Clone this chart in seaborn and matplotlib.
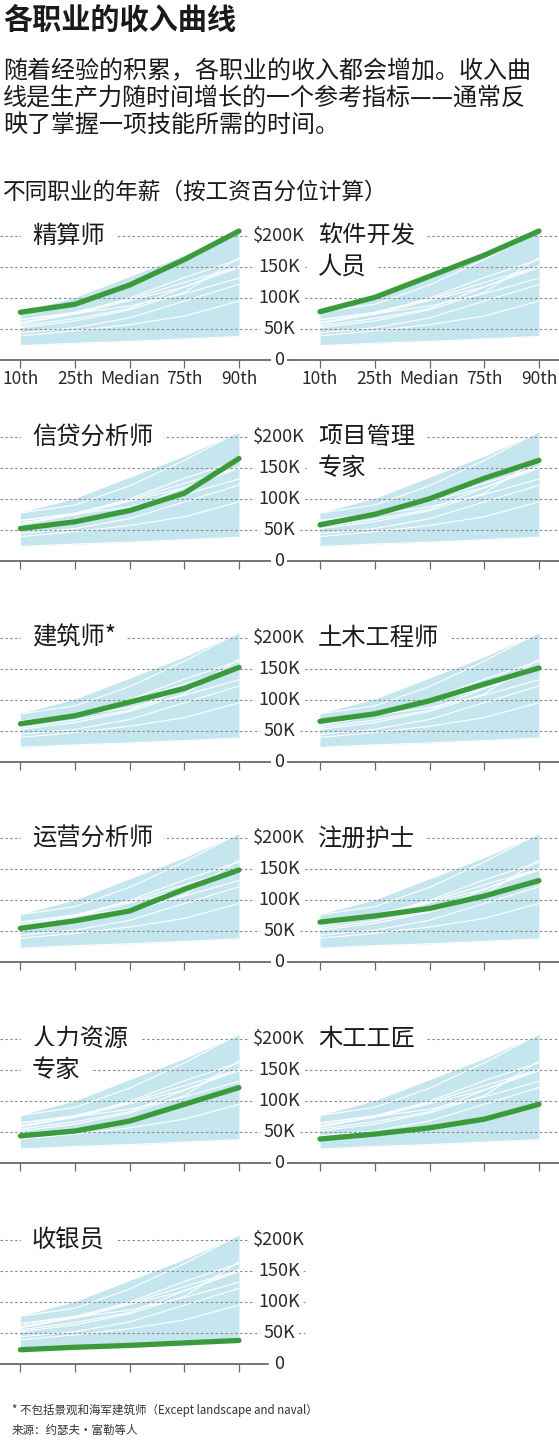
import numpy as np
import pandas as pd
import matplotlib
matplotlib.use("Agg")
import matplotlib.pyplot as plt
import seaborn as sns

# ---------------- data (annual salary, $K) ----------------
percentiles = ["10th", "25th", "Median", "75th", "90th"]
occupations = ["精算师", "软件开发\n人员", "信贷分析师", "项目管理\n专家", "建筑师*",
               "土木工程师", "运营分析师", "注册护士", "人力资源\n专家", "木工工匠", "收银员"]
actuary = [77, 90, 121, 162, 208]
software_dev = [78, 101, 135, 169, 208]
credit_analyst = [52, 63, 81, 109, 165]
project_mgmt = [58, 75, 100, 133, 162]
architect = [61, 74, 96, 118, 152]
civil_engineer = [65, 77, 98, 125, 151]
operations_analyst = [55, 67, 83, 118, 149]
registered_nurse = [65, 75, 87, 107, 132]
hr_specialist = [44, 52, 68, 95, 122]
carpenter = [39, 47, 57, 71, 95]
cashier = [23, 27, 30, 34, 38]
series = [actuary, software_dev, credit_analyst, project_mgmt, architect,
          civil_engineer, operations_analyst, registered_nurse, hr_specialist,
          carpenter, cashier]
ytick_vals = [0, 50, 100, 150, 200]
ytick_labels = ["0", "50K", "100K", "150K", "$200K"]

rows = []
for occ, vals in zip(occupations, series):
    for i, v in enumerate(vals):
        rows.append({"occ": occ, "pos": i, "salary": v})
df = pd.DataFrame(rows)
wide = df.pivot(index="pos", columns="occ", values="salary")
band_lo = wide.min(axis=1)
band_hi = wide.max(axis=1)

# ---------------- style ----------------
sns.set_theme(style="white")
plt.rcParams["font.family"] = ["Noto Sans CJK SC", "DejaVu Sans"]
plt.rcParams["axes.unicode_minus"] = False

W, H = 559, 1440
fig = plt.figure(figsize=(W / 100, H / 100), dpi=100)

BLUE = "#c6e6ef"
GREEN = "#3b9a3b"
GRID = "#8a8a8a"
TXT = "#1a1a1a"

def fx(px):
    return px / W

def fy(py):
    return 1 - py / H

# titles
fig.text(fx(3), fy(20), "各职业的收入曲线", fontsize=21, fontweight="heavy",
         color=TXT, va="center", ha="left")
sub = ["随着经验的积累，各职业的收入都会增加。收入曲",
       "线是生产力随时间增长的一个参考指标——通常反",
       "映了掌握一项技能所需的时间。"]
for k, line in enumerate(sub):
    fig.text(fx(3), fy(71 + 27 * k), line, fontsize=17.3, color=TXT,
             va="center", ha="left")
fig.text(fx(3), fy(192), "不同职业的年薪（按工资百分位计算）", fontsize=16.3,
         color=TXT, va="center", ha="left", fontweight="medium")

# panel geometry (pixels)
ROW0_ZERO = 360
ROW_STEP = 200.8
PX_PER_K = 124 / 200
YMAX = 230
ax_h = YMAX * PX_PER_K

panels = []
for idx in range(len(occupations)):
    r, c = divmod(idx, 2)
    panels.append((idx, r, c))

for idx, r, c in panels:
    zero_y = ROW0_ZERO + ROW_STEP * r
    if c == 0:
        left_px, right_px = 0, 290
        x0_px, x4_px = 20.4, 239
    else:
        left_px, right_px = 290, 559
        x0_px, x4_px = 320, 539
    unit = (x4_px - x0_px) / 4
    ax = fig.add_axes([fx(left_px), fy(zero_y), (right_px - left_px) / W, ax_h / H])
    ax.set_facecolor("none")
    ax.set_xlim((left_px - x0_px) / unit, (right_px - x0_px) / unit)
    ax.set_ylim(0, YMAX)
    for s in ax.spines.values():
        s.set_visible(False)
    ax.set_yticks([])

    # band + other occupations + highlighted one
    ax.fill_between(wide.index, band_lo.values, band_hi.values, color=BLUE,
                    lw=0, zorder=1)
    others = df[df["occ"] != occupations[idx]]
    sns.lineplot(data=others, x="pos", y="salary", units="occ", estimator=None,
                 color="white", lw=0.85, alpha=0.95, ax=ax, zorder=2, legend=False)
    hl = df[df["occ"] == occupations[idx]]
    sns.lineplot(data=hl, x="pos", y="salary", color=GREEN, lw=3.8, ax=ax,
                 zorder=4, legend=False, solid_capstyle="round")

    # grid lines and baseline
    last_alone = (idx == len(occupations) - 1)
    grid_end = 305 if last_alone else right_px
    base_end = 268 if last_alone else right_px
    span = right_px - left_px
    for v in ytick_vals[1:]:
        ax.axhline(v, xmin=0, xmax=(grid_end - left_px) / span, color=GRID,
                   lw=0.8, ls=(0, (2.2, 2.2)), zorder=3, clip_on=False)
    ax.axhline(0, xmin=0, xmax=(base_end - left_px) / span, color="#6a6a6a",
               lw=1.3, zorder=3, clip_on=False)

    ax.set_xticks(range(len(percentiles)))
    if r == 0:
        ax.set_xticklabels(percentiles, fontsize=12.5, color="#2a2a2a")
    else:
        ax.set_xticklabels([])
    ax.tick_params(axis="x", length=5.5, width=0.9, color="#6a6a6a", pad=2,
                   direction="out", bottom=True)
    ax.set_xlabel("")
    ax.set_ylabel("")

    # panel title (one or two lines)
    tx = 32 if c == 0 else 318
    for j, part in enumerate(occupations[idx].split("\n")):
        ty = zero_y - 200 * PX_PER_K + j * 50 * PX_PER_K
        fig.text(fx(tx), fy(ty), part, fontsize=17.5, color=TXT, ha="left",
                 va="center", zorder=5, fontweight="medium",
                 bbox=dict(boxstyle="square,pad=0.45", fc="white", ec="none"))

    # y labels between panels (drawn once per row)
    if c == 0:
        for v, lab in zip(ytick_vals, ytick_labels):
            fig.text(fx(279), fy(zero_y - v * PX_PER_K), lab, fontsize=13,
                     color="#2a2a2a", ha="center", va="center", zorder=5,
                     bbox=dict(boxstyle="square,pad=0.15", fc="white", ec="none"))

# footnotes
fig.text(fx(12), fy(1410), "* 不包括景观和海军建筑师（Except landscape and naval）",
         fontsize=8.3, color="#333333", ha="left", va="center")
fig.text(fx(12), fy(1430), "来源：约瑟夫·富勒等人", fontsize=8.3, color="#333333",
         ha="left", va="center")

fig.savefig("out.png", dpi=100)
